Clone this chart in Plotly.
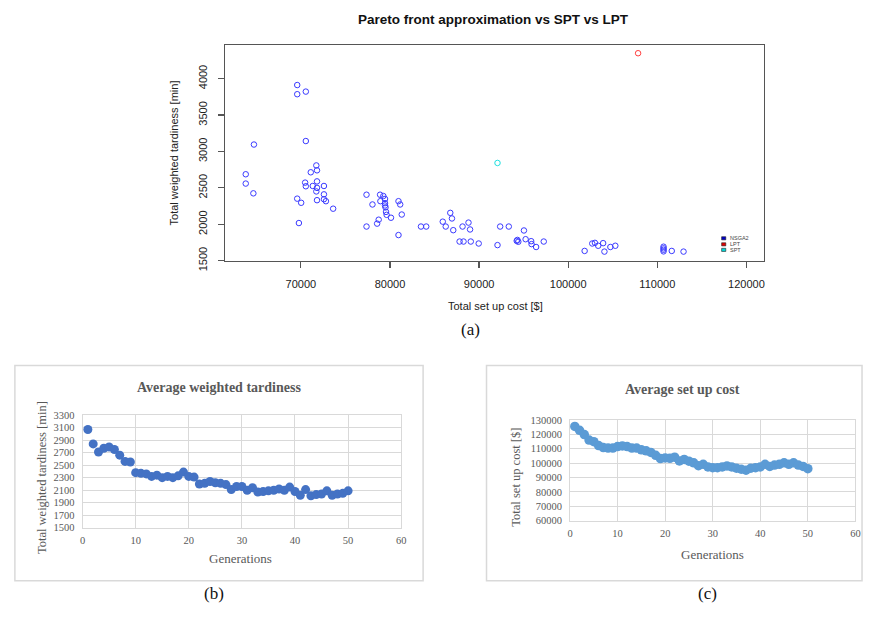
import plotly.graph_objects as go

W, H = 870, 617

# ---------------- data: (a) Pareto front ----------------
nsga2_cost = [69590, 69590, 70555, 64734, 70555, 63812, 63812, 64667, 71733, 71811,
              71111, 70478, 70555, 71333, 71811, 71811, 71733, 72589, 72589, 72589,
              72811, 71811, 73622, 69589, 70033, 69778, 77366, 78033, 77366, 78889,
              79255, 79444, 78922, 79444, 79444, 79500, 80955, 81144, 79555, 79622,
              81322, 80111, 78733, 78555, 80955, 83477, 84066, 85922, 86255, 86766,
              86955, 87100, 88144, 88811, 88988, 87811, 88255, 89066, 89955, 92066,
              92366, 93333, 95033, 95222, 94222, 94300, 94400, 95844, 95888, 96400,
              97255, 101844, 102700, 103000, 103366, 103922, 104066, 104733, 105288,
              110700, 110700, 110700, 110700, 111622, 112944]
nsga2_tard = [3912, 3786, 3822, 3095, 3143, 2687, 2559, 2425, 2808, 2741,
              2714, 2572, 2522, 2526, 2589, 2500, 2451, 2526, 2411, 2344,
              2317, 2331, 2214, 2352, 2295, 2017, 2406, 2272, 1969, 2406,
              2388, 2348, 2317, 2290, 2258, 2232, 2317, 2272, 2170, 2130,
              2134, 2090, 2063, 2009, 1852, 1969, 1969, 2036, 1969, 2157,
              2080, 1919, 1969, 2023, 1929, 1763, 1763, 1763, 1736, 1714,
              1969, 1969, 1915, 1795, 1772, 1785, 1760, 1768, 1728, 1688,
              1763, 1634, 1736, 1745, 1705, 1741, 1625, 1688, 1705,
              1692, 1670, 1650, 1628, 1634, 1625]
lpt_cost = [107844]
lpt_tard = [4349]
spt_cost = [92066]
spt_tard = [2842]
legend_names = ["NSGA2", "LPT", "SPT"]
cost_ticks = [70000, 80000, 90000, 100000, 110000, 120000]
tard_ticks = [1500, 2000, 2500, 3000, 3500, 4000]

# ---------------- data: (b) and (c) ----------------
generations = list(range(1, 51))
avg_tardiness = [3070, 2840, 2710, 2770, 2790, 2750, 2660, 2560, 2550, 2380,
                 2370, 2360, 2320, 2340, 2300, 2320, 2300, 2330, 2390, 2320,
                 2310, 2200, 2210, 2240, 2220, 2210, 2190, 2110, 2160, 2160,
                 2100, 2140, 2070, 2080, 2090, 2100, 2120, 2100, 2150, 2080,
                 2020, 2110, 2010, 2030, 2040, 2090, 2020, 2040, 2050, 2090]
avg_setup_cost = [125500, 122800, 119800, 116000, 114900, 112200, 110800, 110400, 110400, 111500,
                  111900, 111500, 110400, 110400, 109200, 108500, 107400, 105400, 103100, 103600,
                  103300, 104100, 101500, 102500, 101300, 100200, 98200, 99100, 97300, 96800,
                  96800, 97300, 98000, 97300, 96400, 95700, 95000, 96400, 96800, 97300,
                  99100, 97700, 98600, 99100, 100200, 99100, 100200, 98600, 97700, 96100]
gen_ticks = [0, 10, 20, 30, 40, 50, 60]
tard_ticks_b = [1500, 1700, 1900, 2100, 2300, 2500, 2700, 2900, 3100, 3300]
cost_ticks_c = [60000, 70000, 80000, 90000, 100000, 110000, 120000, 130000]


def px(x):
    return x / W


def py(y):
    return 1 - y / H


fig = go.Figure()

# (a) scatter traces
fig.add_trace(go.Scatter(x=nsga2_cost, y=nsga2_tard, mode="markers", name="NSGA2",
                         marker=dict(symbol="circle-open", size=5.5, color="#3a3aff", line=dict(width=1)),
                         xaxis="x", yaxis="y"))
fig.add_trace(go.Scatter(x=lpt_cost, y=lpt_tard, mode="markers", name="LPT",
                         marker=dict(symbol="circle-open", size=5.5, color="#ff4040", line=dict(width=1)),
                         xaxis="x", yaxis="y"))
fig.add_trace(go.Scatter(x=spt_cost, y=spt_tard, mode="markers", name="SPT",
                         marker=dict(symbol="circle-open", size=5.5, color="#20e0e0", line=dict(width=1)),
                         xaxis="x", yaxis="y"))

# (b)
fig.add_trace(go.Scatter(x=generations, y=avg_tardiness, mode="markers",
                         marker=dict(symbol="circle", size=9, color="#4472C4"),
                         xaxis="x2", yaxis="y2"))
# (c)
fig.add_trace(go.Scatter(x=generations, y=avg_setup_cost, mode="markers",
                         marker=dict(symbol="circle", size=9.5, color="#5B9BD5"),
                         xaxis="x3", yaxis="y3"))

sans = "Liberation Sans, Arial, sans-serif"
serif = "Liberation Serif, Times New Roman, serif"
gray = "#595959"

axis_a = dict(showgrid=False, zeroline=False, showline=True, linecolor="#555555", linewidth=1.3,
              mirror=True, ticks="outside", ticklen=6, tickcolor="#555555", tickwidth=1.2,
              tickformat="d", tickfont=dict(family=sans, size=11, color="#222222"))
axis_bc = dict(showgrid=True, gridcolor="#d9d9d9", gridwidth=1, zeroline=False, showline=True,
               linecolor="#d9d9d9", linewidth=1, mirror=True, ticks="", tickformat="d",
               tickfont=dict(family=serif, size=10.5, color=gray))

layout = dict(
    width=W, height=H, margin=dict(l=0, r=0, t=0, b=0), autosize=False,
    paper_bgcolor="white", plot_bgcolor="white", showlegend=False, hovermode=False,
    xaxis=dict(domain=[px(224), px(768)], range=[61478, 121967], anchor="y",
               tickvals=cost_ticks, ticklabelstandoff=7, **axis_a),
    yaxis=dict(domain=[py(262.5), py(41.5)], range=[1500, 4456], anchor="x",
               tickvals=tard_ticks, tickangle=-90, ticklabelstandoff=6, **axis_a),
    xaxis2=dict(domain=[px(80.3), px(401.9)], range=[0, 60], tickvals=gen_ticks, anchor="y2",
                ticklabelstandoff=3, **axis_bc),
    yaxis2=dict(domain=[py(536.7), py(421)], range=[1500, 3300], tickvals=tard_ticks_b, anchor="x2",
                ticklabelstandoff=5, **axis_bc),
    xaxis3=dict(domain=[px(572.3), px(860.3)], range=[0, 60], tickvals=gen_ticks, anchor="y3",
                ticklabelstandoff=3, **axis_bc),
    yaxis3=dict(domain=[py(529.3), py(426)], range=[60000, 130000], tickvals=cost_ticks_c, anchor="x3",
                ticklabelstandoff=5, **axis_bc),
)
fig.update_layout(**layout)


def ann(text, x, y, size, family, color, bold=False, angle=0, xanchor="center"):
    t = f"<b>{text}</b>" if bold else text
    fig.add_annotation(text=t, x=px(x), y=py(y), xref="paper", yref="paper", showarrow=False,
                       xanchor=xanchor, yanchor="middle", textangle=angle,
                       font=dict(family=family, size=size, color=color))


# (a) texts
ann("Pareto front approximation vs SPT vs LPT", 495, 15, 13.5, sans, "#111111", bold=True)
ann("Total set up cost [$]", 497, 309, 11, sans, "#222222")
ann("Total weighted tardiness [min]", 173, 152, 11, sans, "#222222", angle=-90)
ann("(a)", 472, 333, 17, serif, "#111111")

# (a) legend (manual)
leg_colors = ["#0000c8", "#e00000", "#00d8d8"]
leg_y = [239.5, 245.7, 251.4]
for name, c, yy in zip(legend_names, leg_colors, leg_y):
    fig.add_shape(type="rect", xref="paper", yref="paper", x0=px(725.3), x1=px(729.5),
                  y0=py(yy + 1.6), y1=py(yy - 1.6), fillcolor=c, line=dict(color="#222222", width=0.6))
    ann(name, 732, yy, 5.5, sans, "#444444", xanchor="left")

# (b) frame and texts
fig.add_shape(type="rect", xref="paper", yref="paper", x0=px(12), x1=px(424), y0=py(591), y1=py(370),
              line=dict(color="#d9d9d9", width=1.5), fillcolor="rgba(0,0,0,0)")
ann("Average weighted tardiness", 218, 393, 14, serif, gray, bold=True)
ann("Total weighted tardiness [min]", 40, 485, 12.5, serif, gray, angle=-90)
ann("Generations", 240, 568, 13, serif, gray)
ann("(b)", 213, 604, 17, serif, "#111111")

# (c) frame and texts
fig.add_shape(type="rect", xref="paper", yref="paper", x0=px(488), x1=px(867), y0=py(591), y1=py(370),
              line=dict(color="#d9d9d9", width=1.5), fillcolor="rgba(0,0,0,0)")
ann("Average set up cost", 686, 395, 14, serif, gray, bold=True)
ann("Total set up cost [$]", 518, 485, 12.5, serif, gray, angle=-90)
ann("Generations", 716, 564, 13, serif, gray)
ann("(c)", 711, 604, 17, serif, "#111111")

post = ("document.documentElement.style.margin='0';document.documentElement.style.padding='0';"
        "document.body.style.margin='0';document.body.style.padding='0';"
        "document.body.style.overflow='hidden';document.documentElement.style.overflow='hidden';"
        "var d=document.getElementById('{plot_id}');d.style.position='fixed';"
        "d.style.left='0px';d.style.top='0px';")

fig.write_html("out.html", config={"displayModeBar": False, "staticPlot": True}, post_script=post)
